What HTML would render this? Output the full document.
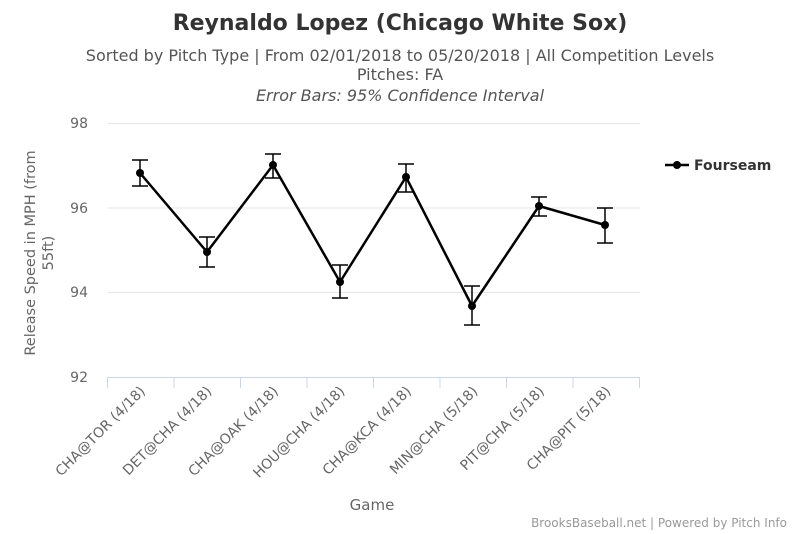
<!DOCTYPE html>
<html><head><meta charset="utf-8"><style>body{margin:0;background:#fff}svg{display:block}text{font-family:"DejaVu Sans","Liberation Sans",sans-serif}</style></head>
<body>
<svg width="800" height="534" viewBox="0 0 800 534" xmlns="http://www.w3.org/2000/svg">
<rect width="800" height="534" fill="#fff"/>
<text x="400" y="30" text-anchor="middle" font-size="22" font-weight="bold" fill="#333">Reynaldo Lopez (Chicago White Sox)</text>
<text x="400" y="61" text-anchor="middle" font-size="16" fill="#555">Sorted by Pitch Type | From 02/01/2018 to 05/20/2018 | All Competition Levels</text>
<text x="400" y="80" text-anchor="middle" font-size="16" fill="#555">Pitches: FA</text>
<text x="400" y="101" text-anchor="middle" font-size="16" font-style="italic" fill="#555">Error Bars: 95% Confidence Interval</text>
<g stroke="#e6e6e6" stroke-width="1">
<line x1="108" x2="640" y1="123.5" y2="123.5"/>
<line x1="108" x2="640" y1="208" y2="208"/>
<line x1="108" x2="640" y1="292.5" y2="292.5"/>
</g>
<line x1="108" x2="640" y1="377.5" y2="377.5" stroke="#ccd6eb"/>
<g stroke="#ccd6eb">
<line x1="107.5" x2="107.5" y1="377" y2="388"/><line x1="174" x2="174" y1="377" y2="388"/><line x1="240.5" x2="240.5" y1="377" y2="388"/><line x1="307" x2="307" y1="377" y2="388"/><line x1="373.5" x2="373.5" y1="377" y2="388"/><line x1="440" x2="440" y1="377" y2="388"/><line x1="506.5" x2="506.5" y1="377" y2="388"/><line x1="573" x2="573" y1="377" y2="388"/><line x1="639.5" x2="639.5" y1="377" y2="388"/>
</g>
<g font-size="14" fill="#666" text-anchor="end">
<text x="88" y="128">98</text><text x="88" y="213">96</text><text x="88" y="297">94</text><text x="88" y="382">92</text>
</g>
<text transform="translate(35,253) rotate(-90)" text-anchor="middle" font-size="14.5" fill="#666"><tspan x="0" y="0">Release Speed in MPH (from</tspan><tspan x="0" y="18">55ft)</tspan></text>
<g font-size="14" fill="#666" text-anchor="end">
<text transform="translate(146,392) rotate(-45)">CHA@TOR (4/18)</text>
<text transform="translate(212.5,392) rotate(-45)">DET@CHA (4/18)</text>
<text transform="translate(279,392) rotate(-45)">CHA@OAK (4/18)</text>
<text transform="translate(345.5,392) rotate(-45)">HOU@CHA (4/18)</text>
<text transform="translate(412,392) rotate(-45)">CHA@KCA (4/18)</text>
<text transform="translate(478.5,392) rotate(-45)">MIN@CHA (5/18)</text>
<text transform="translate(545,392) rotate(-45)">PIT@CHA (5/18)</text>
<text transform="translate(611.5,392) rotate(-45)">CHA@PIT (5/18)</text>
</g>
<text x="372" y="510" text-anchor="middle" font-size="15" fill="#666">Game</text>
<g stroke="#000" stroke-width="1.5" fill="none">
<path d="M140 160V186M132 160H148M132 186H148"/>
<path d="M207 237V267M199 237H215M199 267H215"/>
<path d="M273 154V178M265 154H281M265 178H281"/>
<path d="M340 265V298M332 265H348M332 298H348"/>
<path d="M406 164V192M398 164H414M398 192H414"/>
<path d="M472 286V325M464 286H480M464 325H480"/>
<path d="M539 197V216M531 197H547M531 216H547"/>
<path d="M605 208V243M597 208H613M597 243H613"/>
</g>
<polyline points="140,173 207,252 273,165 340,282 406,177 472,306 539,206 605,225" fill="none" stroke="#000" stroke-width="2.5"/>
<g fill="#000">
<circle cx="140" cy="173" r="4"/><circle cx="207" cy="252" r="4"/><circle cx="273" cy="165" r="4"/><circle cx="340" cy="282" r="4"/><circle cx="406" cy="177" r="4"/><circle cx="472" cy="306" r="4"/><circle cx="539" cy="206" r="4"/><circle cx="605" cy="225" r="4"/>
</g>
<line x1="665" x2="689" y1="165" y2="165" stroke="#000" stroke-width="2.5"/>
<circle cx="677" cy="165" r="4" fill="#000"/>
<text x="694" y="170" font-size="14" font-weight="bold" fill="#333">Fourseam</text>
<text x="787" y="527" text-anchor="end" font-size="12" fill="#999">BrooksBaseball.net | Powered by Pitch Info</text>
</svg>
</body></html>
